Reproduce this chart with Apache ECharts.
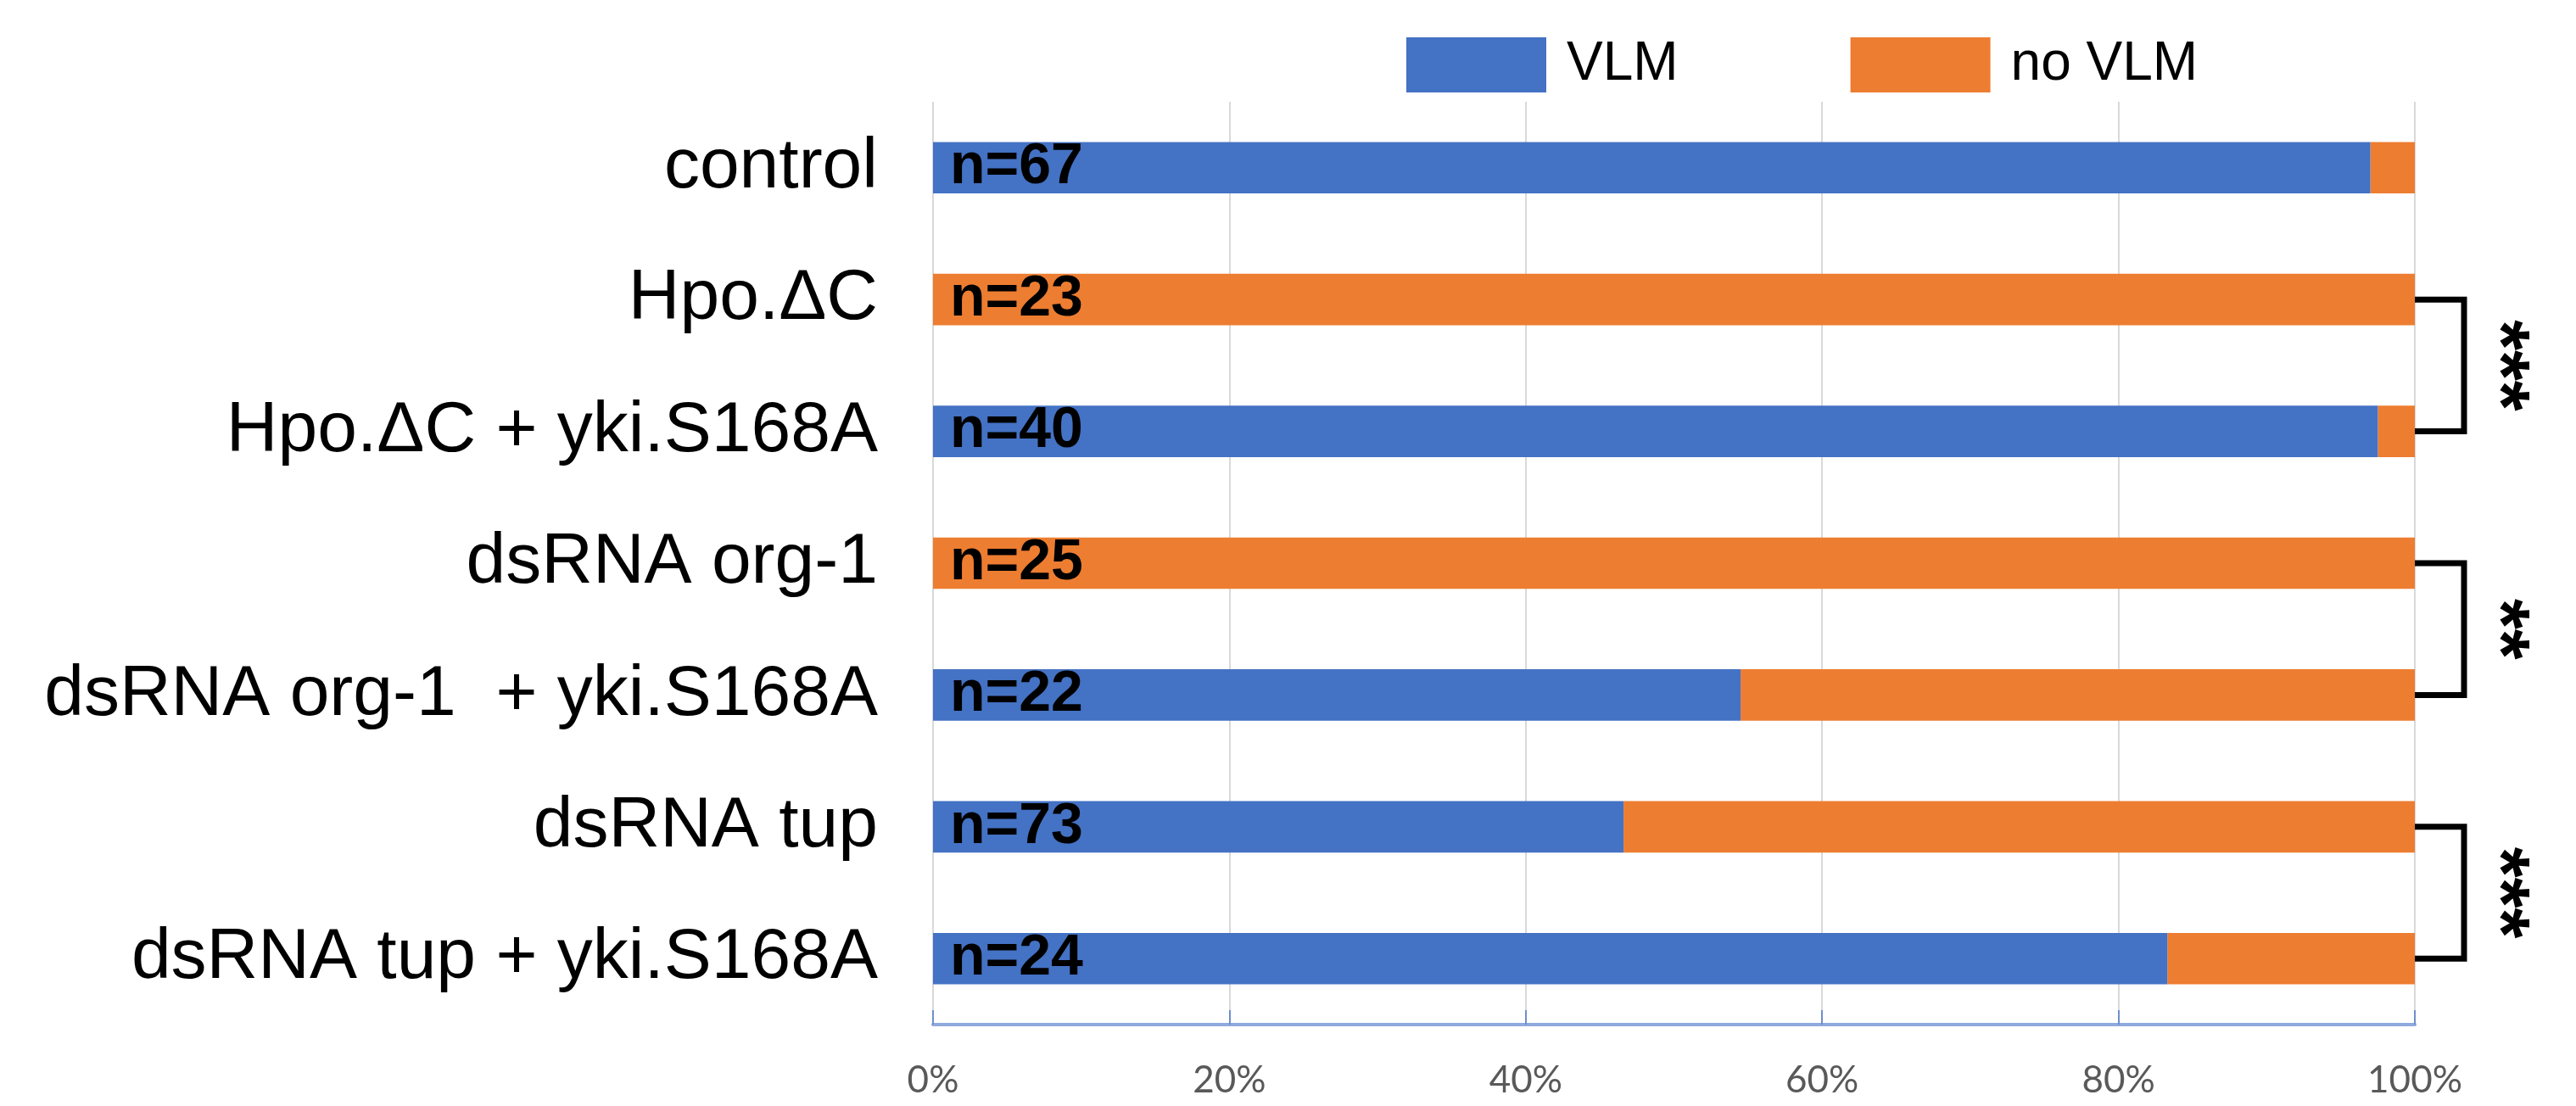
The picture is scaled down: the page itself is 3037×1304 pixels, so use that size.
<!DOCTYPE html>
<html>
<head>
<meta charset="utf-8">
<script src="https://cdn.jsdelivr.net/npm/echarts@6/dist/echarts.min.js"></script>
<style>
  html, body { margin: 0; padding: 0; background: #ffffff; }
  #chart { width: 3037px; height: 1304px; }
</style>
</head>
<body>
<div id="chart"></div>
<script>
// Genotypes, top to bottom
const categories = [
  'control',
  'Hpo.\u0394C',
  'Hpo.\u0394C + yki.S168A',
  'dsRNA org-1',
  'dsRNA org-1  + yki.S168A',
  'dsRNA tup',
  'dsRNA tup + yki.S168A'
];
// Percent of animals with / without VLM
const vlmPercent   = [97.0, 0, 97.5, 0, 54.5, 46.6, 83.3];
const noVlmPercent = [3.0, 100, 2.5, 100, 45.5, 53.4, 16.7];
// Animals scored per genotype
const sampleSizes = [67, 23, 40, 25, 22, 73, 24];
// Significance brackets: first row, second row, stars
const bracketFrom  = [1, 3, 5];
const bracketTo    = [2, 4, 6];
const bracketStars = ['***', '**', '***'];
// Value-axis ticks
const xTicks = [0, 20, 40, 60, 80, 100];

const BLUE = '#4472C4';
const ORANGE = '#ED7D31';
const ARIAL = '"Liberation Sans", Arial, sans-serif';

const bracketData = bracketFrom.map((f, i) => [100, f, bracketTo[i]]);

const chart = echarts.init(document.getElementById('chart'), null, { renderer: 'canvas' });

chart.setOption({
  backgroundColor: '#ffffff',
  animation: false,
  legend: {
    left: 1653,
    top: 39,
    itemWidth: 165,
    itemHeight: 65,
    itemGap: 203,
    icon: 'rect',
    textStyle: {
      fontFamily: ARIAL,
      fontSize: 64,
      color: '#000000',
      padding: [0, 0, 6, 19]
    },
    data: ['VLM', 'no VLM']
  },
  grid: {
    left: 1100,
    right: 190,
    top: 120,
    bottom: 96,
    containLabel: false,
    outerBoundsMode: 'none'
  },
  xAxis: {
    type: 'value',
    min: xTicks[0],
    max: xTicks[xTicks.length - 1],
    interval: xTicks[1] - xTicks[0],
    axisLine: { show: true, lineStyle: { color: '#8FAADC', width: 4 } },
    axisTick: { show: true, inside: true, length: 17, lineStyle: { color: '#6F8FCB', width: 2 } },
    splitLine: { show: true, lineStyle: { color: '#D9D9D9', width: 2 } },
    axisLabel: {
      formatter: '{value}%',
      fontFamily: 'Lato, "Open Sans", sans-serif',
      fontSize: 44,
      color: '#595959',
      margin: 44
    }
  },
  yAxis: {
    type: 'category',
    inverse: true,
    data: categories,
    axisLine: { show: false },
    axisTick: { show: false },
    splitLine: { show: false },
    axisLabel: {
      fontFamily: ARIAL,
      fontSize: 84,
      color: '#000000',
      margin: 65
    }
  },
  series: [
    {
      name: 'VLM',
      type: 'bar',
      stack: 'share',
      z: 3,
      barCategoryGap: '61%',
      itemStyle: { color: BLUE },
      label: {
        show: true,
        position: 'insideLeft',
        distance: 20,
        formatter: p => 'n=' + sampleSizes[p.dataIndex],
        fontFamily: ARIAL,
        fontWeight: 'bold',
        fontSize: 68,
        color: '#000000'
      },
      data: vlmPercent
    },
    {
      name: 'no VLM',
      type: 'bar',
      stack: 'share',
      barCategoryGap: '61%',
      itemStyle: { color: ORANGE },
      data: noVlmPercent
    },
    {
      name: 'significance',
      type: 'custom',
      clip: false,
      silent: true,
      encode: { x: 0, y: [1, 2] },
      data: bracketData,
      renderItem: function (params, api) {
        const a = api.coord([api.value(0), api.value(1)]);
        const b = api.coord([api.value(0), api.value(2)]);
        const arm = 58;
        const midY = (a[1] + b[1]) / 2;
        return {
          type: 'group',
          children: [
            {
              type: 'polyline',
              shape: {
                points: [
                  [a[0], a[1]],
                  [a[0] + arm, a[1]],
                  [a[0] + arm, b[1]],
                  [b[0], b[1]]
                ]
              },
              style: { stroke: '#000000', lineWidth: 7, fill: null, lineJoin: 'miter' }
            },
            {
              type: 'text',
              x: a[0] + arm + 38,
              y: midY,
              rotation: -Math.PI / 2,
              style: {
                text: bracketStars[params.dataIndex],
                font: 'bold 92px ' + ARIAL,
                fill: '#000000',
                align: 'center',
                verticalAlign: 'middle'
              }
            }
          ]
        };
      }
    }
  ]
});
</script>
</body>
</html>
